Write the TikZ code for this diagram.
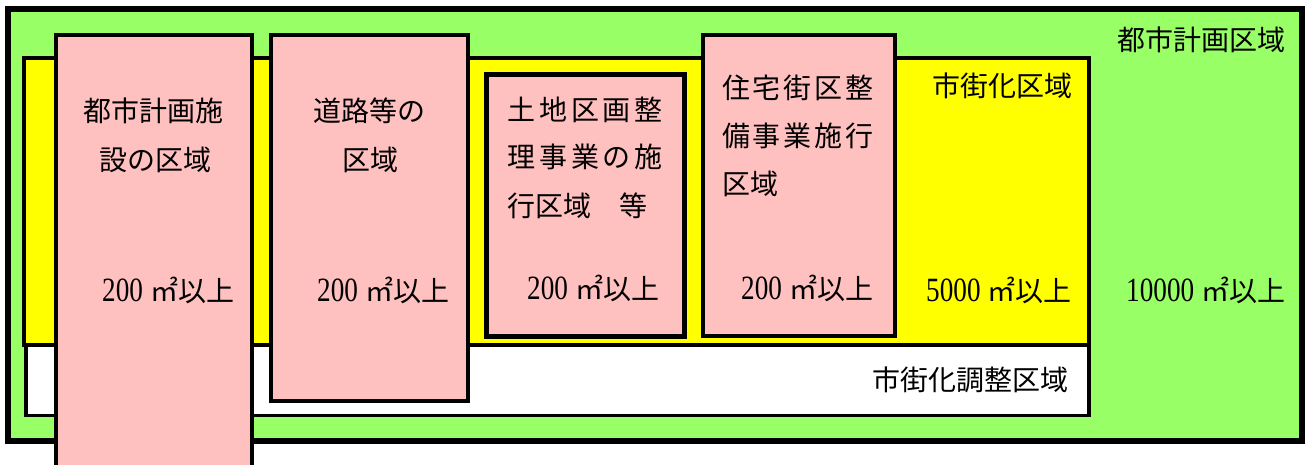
\documentclass[tikz,border=0pt]{standalone}
\usepackage{fontspec}
\newfontfamily\jp{Noto Sans CJK JP}
\newfontfamily\jpwa[LetterSpace=14]{Noto Sans CJK JP}
\newfontfamily\jpwb[LetterSpace=10]{Noto Sans CJK JP}
\newfontfamily\num[FakeStretch=0.8]{Liberation Serif}
\newcommand{\areatxt}[1]{{\fontsize{34}{34}\selectfont\num #1}\hspace{7pt}㎡以上}
\definecolor{cityg}{RGB}{153,255,102}
\definecolor{urby}{RGB}{255,255,0}
\definecolor{pinkb}{RGB}{255,192,192}
\tikzset{
  lbl/.style={inner sep=0pt, font=\jp\fontsize{28}{28}\selectfont, text=black},
  pinkbox/.style={fill=pinkb, draw=black, line width=4pt},
}
\begin{document}
\begin{tikzpicture}[x=1pt,y=-1pt]
\useasboundingbox (0,0) rectangle (1306,464);
\clip (0,0) rectangle (1306,464);
\fill[white] (0,0) rectangle (1306,464);
% city planning area
\draw[fill=cityg, line width=6pt] (8,9) rectangle (1302,440.5);
% urbanization area
\draw[fill=urby, line width=4pt] (24,57.5) rectangle (1089,345);
% urbanization control area
\draw[fill=white, line width=3.5pt] (26,345) rectangle (1089,415.5);
% pink boxes
\draw[pinkbox] (56,35) rectangle (252,480);
\draw[pinkbox] (271,35) rectangle (467.5,401);
\draw[pinkbox, line width=5pt] (486,74) rectangle (684,336.5);
\draw[pinkbox] (703,35) rectangle (895,336);
% labels
\node[lbl] (t1a) at (153,111) {都市計画施};
\node[lbl] (t1b) at (155,160) {設の区域};
\node[lbl, anchor=west] (t1c) at (102,290) {\areatxt{200}};
\node[lbl] (t2a) at (369,111) {道路等の};
\node[lbl] (t2b) at (370,160) {区域};
\node[lbl, anchor=west] (t2c) at (317,290) {\areatxt{200}};
\node[lbl, anchor=west, font=\jpwa\fontsize{28}{28}\selectfont] (t3a) at (507,110) {土地区画整};
\node[lbl, anchor=west, font=\jpwa\fontsize{28}{28}\selectfont] (t3b) at (507,157) {理事業の施};
\node[lbl, anchor=west] (t3c) at (507,206) {行区域　等};
\node[lbl, anchor=west] (t3d) at (527,288) {\areatxt{200}};
\node[lbl, anchor=west, font=\jpwb\fontsize{28}{28}\selectfont] (t4a) at (722,88) {住宅街区整};
\node[lbl, anchor=west, font=\jpwb\fontsize{28}{28}\selectfont] (t4b) at (722,136) {備事業施行};
\node[lbl, anchor=west] (t4c) at (722,184) {区域};
\node[lbl, anchor=west] (t4d) at (741,288) {\areatxt{200}};
\node[lbl, anchor=east] (urb) at (1073,86) {市街化区域};
\node[lbl, anchor=west] (urbA) at (926,290) {\areatxt{5000}};
\node[lbl, anchor=east] (city) at (1286,40) {都市計画区域};
\node[lbl, anchor=west] (cityA) at (1126,290) {\areatxt{10000}};
\node[lbl, anchor=east] (ctrl) at (1069,380) {市街化調整区域};
\end{tikzpicture}
\end{document}
